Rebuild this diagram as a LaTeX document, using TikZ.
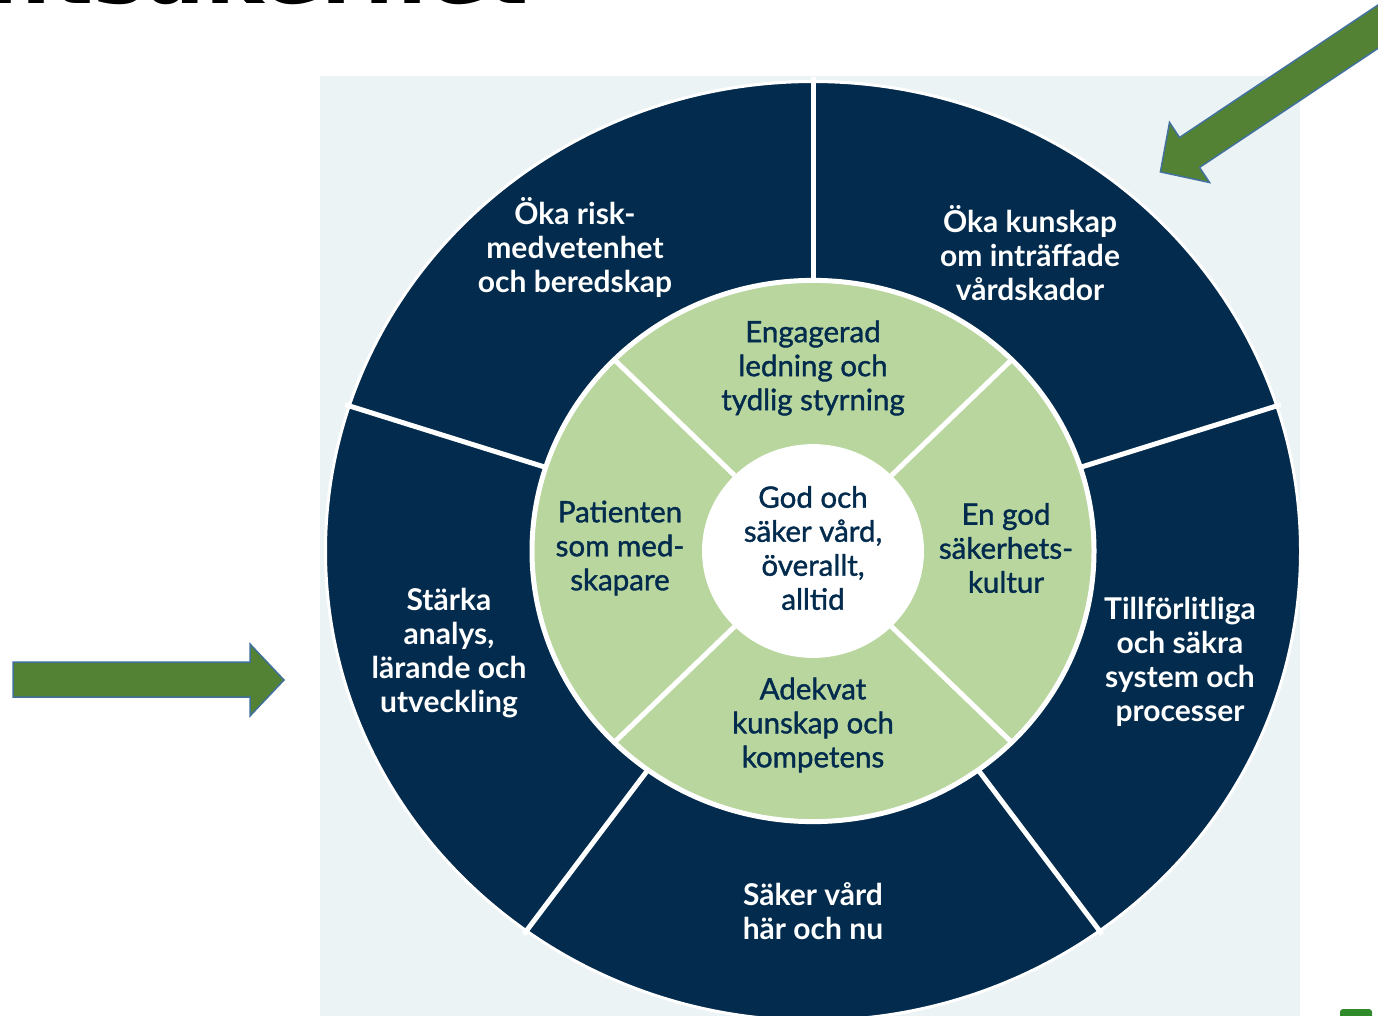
\documentclass[tikz,border=0pt]{standalone}
\usepackage{fontspec}
\setmainfont{Lato}
\newfontfamily\medfont{Lato}[FakeBold=1.3]
\newfontfamily\bigfont{DejaVu Sans}
\definecolor{navy}{HTML}{022B4D}
\definecolor{lgreen}{HTML}{B8D69E}
\definecolor{bgl}{HTML}{EBF3F5}
\definecolor{arrowgreen}{HTML}{548235}
\definecolor{arrowblue}{HTML}{41719C}
\definecolor{tinygreen}{HTML}{2F8A2A}
\begin{document}
\begin{tikzpicture}[x=1pt,y=-1pt,
  outertxt/.style={text=white,font=\bfseries\fontsize{30}{34}\selectfont,align=center,inner sep=0pt},
  innertxt/.style={text=navy,font=\medfont\fontsize{29.5}{34}\selectfont,align=center,inner sep=0pt},
  sep/.style={white,line width=5pt},
  bigarrow/.style={fill=arrowgreen,draw=arrowblue,line width=1.5pt,line join=miter}]
\useasboundingbox (0,0) rectangle (1378,1016);
\clip (0,0) rectangle (1378,1016);
\fill[white] (0,0) rectangle (1378,1016);
\node[anchor=base east,font=\bigfont\bfseries\fontsize{88}{88}\selectfont,inner sep=0pt] (title) at (529,4) {Patientsäkerhet};
\fill[bgl] (320,76) rectangle (1300,1016);
\begin{scope}[shift={(813,551)},yscale=0.963]
  \fill[navy] (0,0) circle (487.5);
  \draw[white,line width=3pt] (0,0) circle (487.5);
  \foreach \a in {-90,-162,-234,-306,-18} \draw[sep] (\a:281) -- (\a:492);
  \fill[lgreen] (0,0) circle (281);
  \draw[sep] (0,0) circle (281);
  \foreach \a in {45,135,225,315} \draw[sep] (\a:111) -- (\a:281);
  \fill[white] (0,0) circle (111);
\end{scope}
\draw[bigarrow] (13,662) -- (250,662) -- (250,644) -- (284,680) -- (250,716) -- (250,697) -- (13,697) -- cycle;
\draw[bigarrow] (1449,1) -- (1199.5,167.5) -- (1209.5,182.5) -- (1160.4,171.9) -- (1169.5,122.5) -- (1179.5,137.5) -- (1429,-29) -- cycle;
\fill[tinygreen,rounded corners=3pt] (1340,1009) rectangle (1372,1030);
\node[outertxt] (t1) at (575,247) {Öka risk-\\medvetenhet\\och beredskap};
\node[outertxt] (t2) at (1030,253) {Öka kunskap\\om inträffade\\vårdskador};
\node[outertxt] (t3) at (1180,662) {Tillförlitliga\\och säkra\\system och\\processer};
\node[outertxt] (t4) at (813,911) {Säker vård\\här och nu};
\node[outertxt] (t5) at (449,653) {Stärka\\analys,\\lärande och\\utveckling};
\node[innertxt] (i1) at (813,368) {Engagerad\\ledning och\\tydlig styrning};
\node[innertxt] (i2) at (620,548) {Patienten\\som med-\\skapare};
\node[innertxt] (i3) at (1006,548) {En god\\säkerhets-\\kultur};
\node[innertxt] (i4) at (813,725) {Adekvat\\kunskap och\\kompetens};
\node[innertxt] (c) at (813,548) {God och\\säker vård,\\överallt,\\alltid};
\end{tikzpicture}
\end{document}
